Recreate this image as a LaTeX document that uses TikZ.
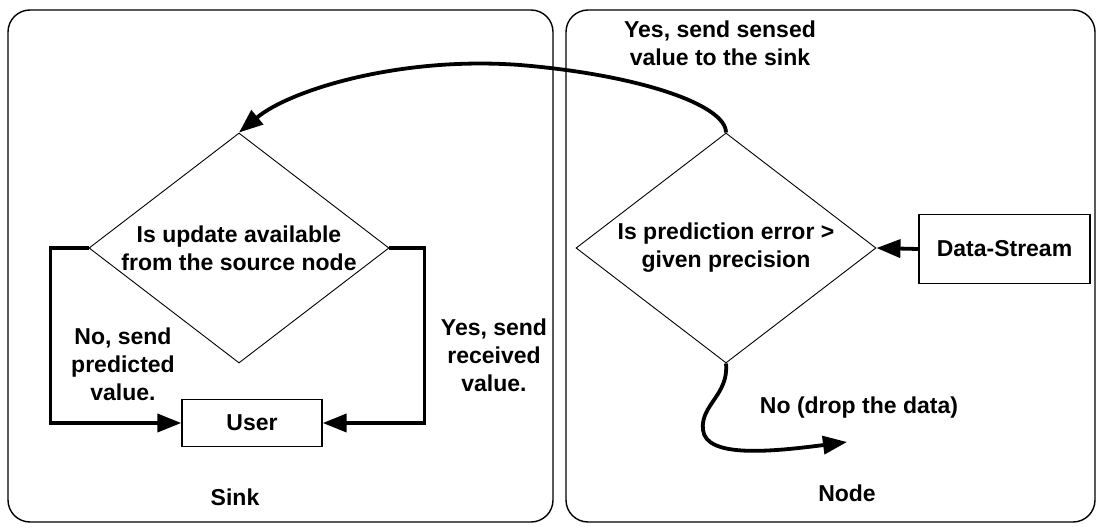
\documentclass[tikz,border=0pt]{standalone}
\usepackage{fontspec}
\setmainfont{Liberation Sans}
\usetikzlibrary{arrows.meta,shapes.geometric}

\tikzset{
    panel/.style={draw, line width=1.4pt, rounded corners=22pt, inner sep=0pt},
    decision/.style={draw, diamond, aspect=1.28, inner sep=0pt, line width=0.9pt,
        minimum width=300pt, minimum height=230pt, align=center},
    block/.style={draw, rectangle, line width=1.4pt, inner sep=0pt},
    label/.style={align=center, inner sep=0pt},
    flow/.style={line width=3.8pt, -{Triangle[length=24pt,width=18pt]}},
}

\begin{document}
\begin{tikzpicture}[x=1pt, y=-1pt,
    every node/.style={font=\fontsize{23}{28}\selectfont\bfseries}]
    \useasboundingbox (0,0) rectangle (1096,527);

    % Panels
    \node[panel, minimum width=545pt, minimum height=512pt] (sinkpanel) at (280.5,266) {};
    \node[panel, minimum width=529pt, minimum height=512pt] (nodepanel) at (830.5,266) {};
    \node[label] (sinklabel) at (235,497) {Sink};
    \node[label] (nodelabel) at (847,493) {Node};

    % Sink side
    \node[decision] (update) at (239,248) {Is update available\\from the source node};
    \node[block, minimum width=140pt, minimum height=47pt] (user) at (252,423) {User};
    \node[label] (nolabel) at (123,364) {No, send\\predicted\\value.};
    \node[label] (yeslabel) at (494,355) {Yes, send\\received\\value.};

    % Node side
    \node[decision] (error) at (726,248) {Is prediction error >\\given precision};
    \node[block, minimum width=171pt, minimum height=69pt] (stream) at (1004.5,249) {Data-Stream};
    \node[label] (sendlabel) at (720,43) {Yes, send sensed\\value to the sink};
    \node[label] (droplabel) at (859,408) {No (drop the data)};

    % Connectors
    \draw[flow] (update.west) -- ++(-38,0) |- (user.west);
    \draw[flow] (update.east) -- ++(35,0) |- (user.east);
    \draw[flow] (stream.west) -- (error.east);
    \draw[flow] (error.north) .. controls (726,105) and (640,75) .. (520,65)
        .. controls (400,56) and (290,90) .. (update.north);
    \coordinate (dropped) at (847,442);
    \draw[flow] (error.south) .. controls (729,395) and (700,405) .. (703,430)
        .. controls (706,458) and (770,452) .. (dropped);
\end{tikzpicture}
\end{document}
